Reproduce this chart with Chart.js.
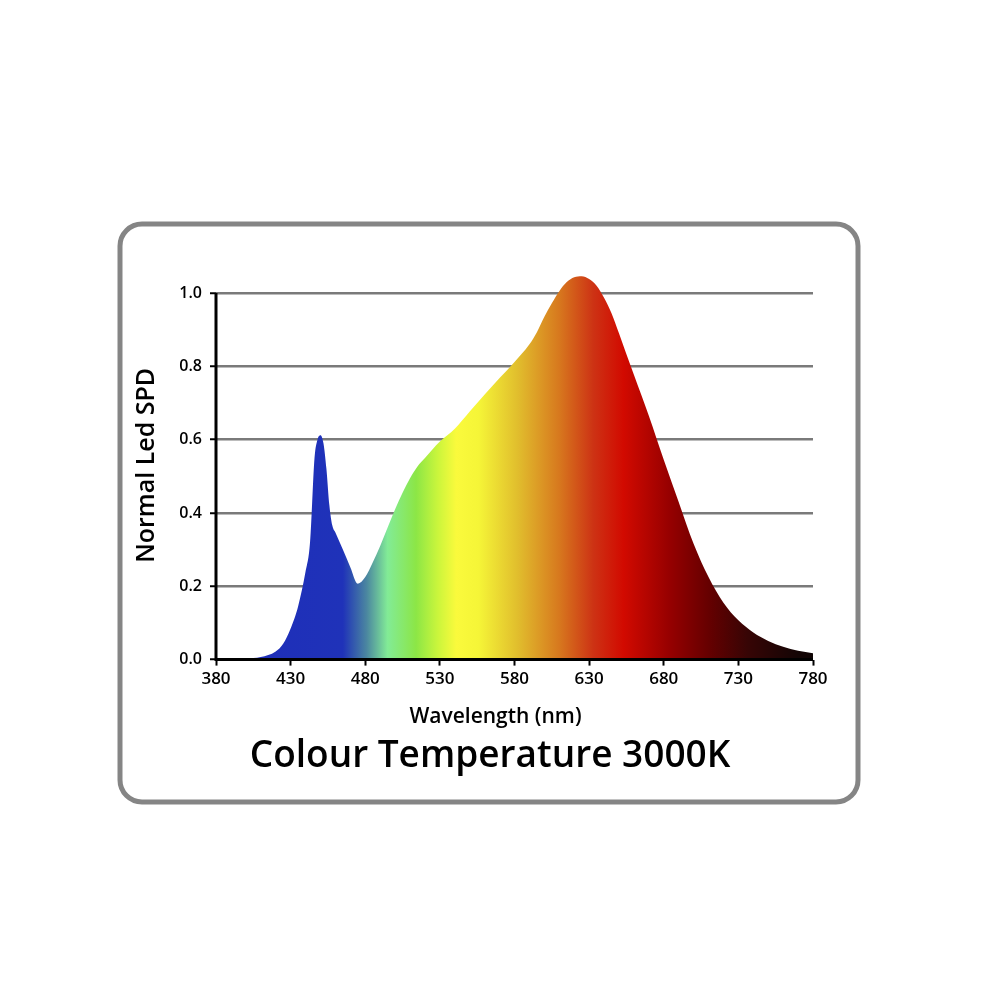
<!DOCTYPE html>
<html lang="en">
<head>
    <meta charset="UTF-8">
    <title>Colour Temperature 3000K</title>
    <script src="https://cdn.jsdelivr.net/npm/chart.js"></script>
    <style>
        html, body { margin: 0; padding: 0; background: #fff; }
        #box { position: relative; width: 1000px; height: 1001px; }
    </style>
</head>
<body>
    <div id="box">
        <canvas id="graficoSpd" width="1000" height="1001"></canvas>
    </div>
</body>
</html>
<script>
// valores
var comprimentos = [380, 390, 400, 410, 420, 425, 430, 435, 440, 443, 446, 448, 450, 452, 454, 456, 458, 460, 465, 470, 475,
    480, 485, 490, 495, 500, 505, 510, 515, 520, 530, 540, 550, 560, 570, 580, 590, 595, 600, 605, 610, 615, 620, 625,
    630, 635, 640, 645, 650, 655, 660, 670, 680, 690, 700, 710, 720, 730, 740, 750, 760, 770, 780];
var spd = [0.0, 0.001, 0.003, 0.007, 0.022, 0.043, 0.085, 0.145, 0.24, 0.32, 0.55, 0.6, 0.612, 0.59, 0.52, 0.42, 0.365, 0.347, 0.30, 0.252, 0.207,
    0.225, 0.265, 0.31, 0.36, 0.41, 0.455, 0.495, 0.527, 0.55, 0.595, 0.63, 0.677, 0.723, 0.768, 0.812, 0.86, 0.893, 0.935, 0.972, 1.005, 1.03, 1.043, 1.046,
    1.038, 1.02, 0.987, 0.945, 0.89, 0.833, 0.777, 0.665, 0.545, 0.43, 0.316, 0.225, 0.155, 0.107, 0.074, 0.051, 0.035, 0.024, 0.017];

var ticksX = [380, 430, 480, 530, 580, 630, 680, 730, 780];
var ticksY = [0.0, 0.2, 0.4, 0.6, 0.8, 1.0];

// cores do espectro (comprimento de onda -> cor)
var corNm = [380, 465, 481, 495, 514, 528, 541, 556, 582, 610, 633, 653, 684, 711, 736, 770, 780];
var corRgb = ['#1e2db9', '#1f32b9', '#4b87a0', '#82eb96', '#8ce646', '#c8f53c', '#fafa3c', '#f5f537', '#e1be2d',
    '#d7781e', '#cd3214', '#d20a00', '#960000', '#640000', '#370505', '#140505', '#0f0505'];

var fonte = '"Open Sans", Roboto, sans-serif';
var tituloX = 'Wavelength (nm)';

function gradienteEspectro(context) {
    var chart = context.chart;
    if (!chart.chartArea) return '#1e2db9';
    var x = chart.scales.x;
    var g = chart.ctx.createLinearGradient(x.getPixelForValue(380), 0, x.getPixelForValue(780), 0);
    for (var i = 0; i < corNm.length; i++) {
        g.addColorStop((corNm[i] - 380) / 400, corRgb[i]);
    }
    return g;
}

var moldura = {
    id: 'moldura',
    beforeDraw: function (chart) {
        var ctx = chart.ctx;
        ctx.save();
        ctx.fillStyle = '#fff';
        ctx.fillRect(0, 0, chart.width, chart.height);
        ctx.strokeStyle = '#858585';
        ctx.lineWidth = 5;
        ctx.beginPath();
        ctx.roundRect(120, 224, 738, 578, 22);
        ctx.stroke();
        ctx.restore();
    },
    afterDatasetsDraw: function (chart) {
        // linhas dos eixos por cima do preenchimento
        var ctx = chart.ctx;
        var x = chart.scales.x, y = chart.scales.y;
        ctx.save();
        ctx.strokeStyle = '#000';
        ctx.lineWidth = 3;
        ctx.beginPath();
        ctx.moveTo(x.getPixelForValue(380), y.getPixelForValue(1.0));
        ctx.lineTo(x.getPixelForValue(380), y.getPixelForValue(0));
        ctx.lineTo(x.getPixelForValue(780), y.getPixelForValue(0));
        ctx.stroke();

        // titulo do eixo x, um pouco a esquerda do centro como no original
        var area = chart.chartArea;
        ctx.fillStyle = '#000';
        ctx.font = '600 21px ' + fonte;
        ctx.textAlign = 'center';
        ctx.textBaseline = 'middle';
        ctx.fillText(tituloX, (area.left + area.right) / 2 - 19, x.bottom - 13);
        ctx.restore();
    }
};

var pontos = comprimentos.map(function (w, i) { return { x: w, y: spd[i] }; });

const ctxSpd = document.getElementById('graficoSpd');

var grafico = new Chart(ctxSpd, {
    type: 'line',
    data: {
        datasets: [{
            label: 'SPD',
            data: pontos,
            fill: 'origin',
            backgroundColor: gradienteEspectro,
            borderWidth: 0,
            pointRadius: 0,
            cubicInterpolationMode: 'monotone'
        }]
    },
    plugins: [moldura],
    options: {
        responsive: false,
        animation: false,
        devicePixelRatio: 1,
        layout: { padding: { top: 271, left: 167, right: 187, bottom: 222 } },
        plugins: {
            legend: { display: false },
            tooltip: { enabled: false },
            title: {
                display: true,
                position: 'bottom',
                text: 'Colour Temperature 3000K',
                color: '#000',
                font: { family: fonte, size: 37, weight: '600' },
                padding: { top: 5, bottom: 0 }
            }
        },
        scales: {
            x: {
                type: 'linear',
                min: 380,
                max: 780,
                afterFit: function (s) { s.height = 70; },
                afterBuildTicks: function (s) { s.ticks = ticksX.map(function (v) { return { value: v }; }); },
                border: { display: false },
                grid: { drawOnChartArea: false, drawTicks: true, tickLength: 6, tickColor: '#000', tickWidth: 2 },
                ticks: { color: '#000', padding: 3, maxRotation: 0, font: { family: fonte, size: 17, weight: '600' } },
                title: { display: false }
            },
            y: {
                min: 0,
                max: 1.06,
                afterFit: function (s) { s.width = 49; },
                afterBuildTicks: function (s) { s.ticks = ticksY.map(function (v) { return { value: v }; }); },
                border: { display: false },
                grid: {
                    color: function (c) { return c.tick && c.tick.value === 0 ? 'rgba(0,0,0,0)' : '#7a7a7a'; },
                    lineWidth: 2.5,
                    tickLength: 6,
                    tickColor: '#000',
                    tickWidth: 2
                },
                ticks: {
                    color: '#000',
                    padding: 8,
                    font: { family: fonte, size: 16, weight: '600' },
                    callback: function (v) { return Number(v).toFixed(1); }
                },
                title: {
                    display: true,
                    text: 'Normal Led SPD',
                    color: '#000',
                    font: { family: fonte, size: 25, weight: '600' },
                    padding: { top: -35, bottom: 0 }
                }
            }
        }
    }
});
</script>
